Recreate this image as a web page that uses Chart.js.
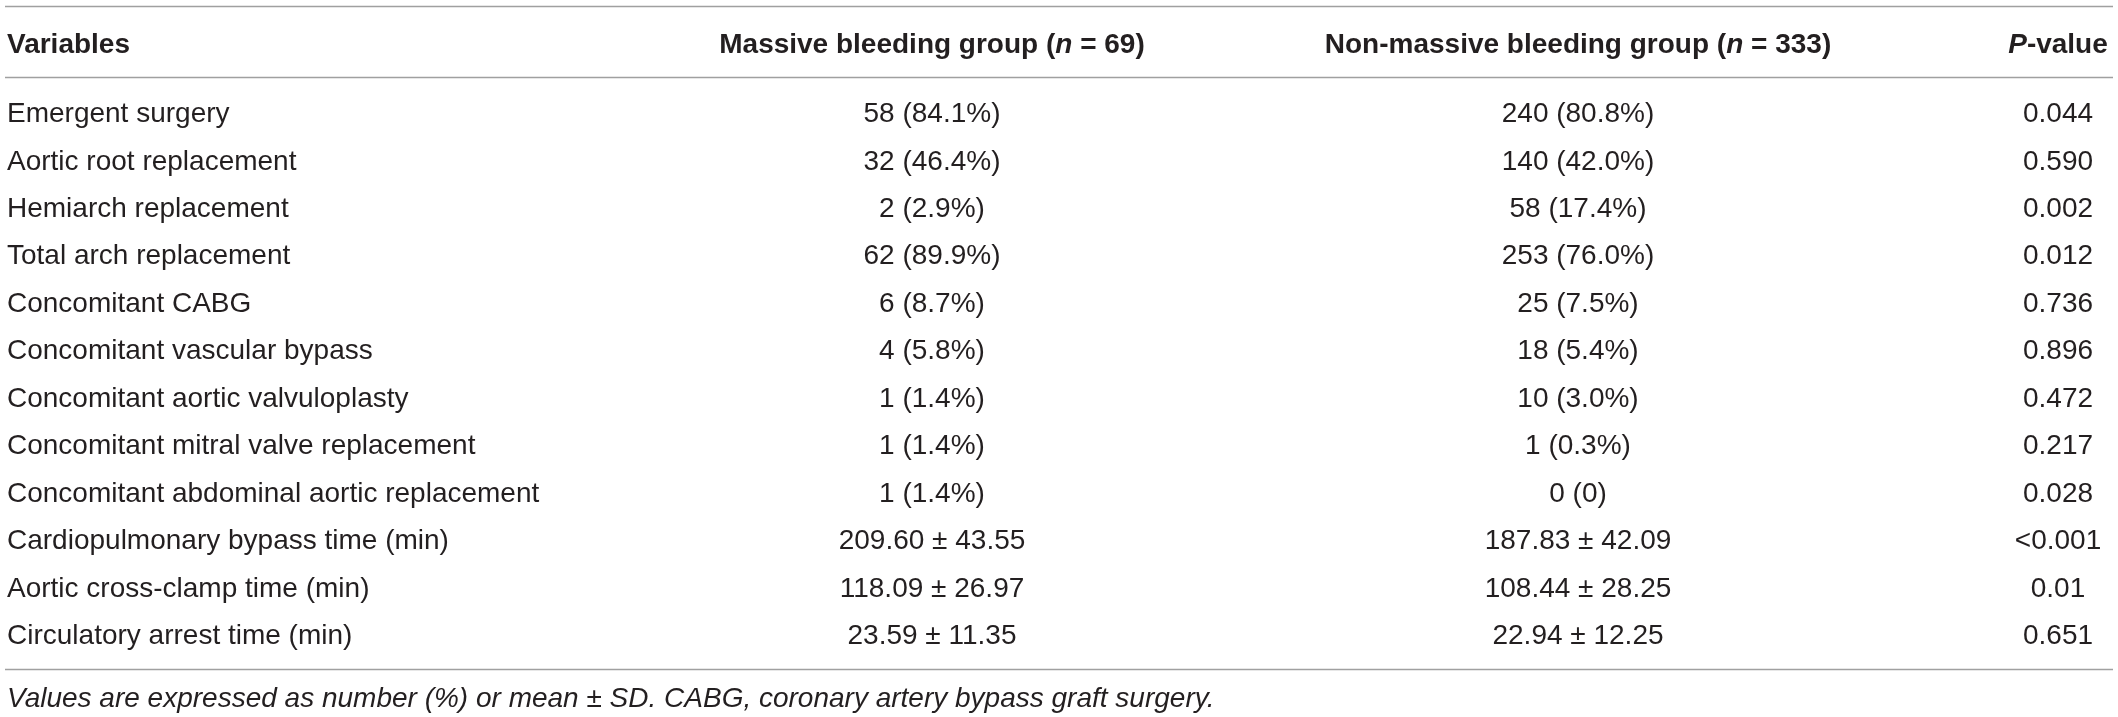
<!DOCTYPE html>
<html>
<head>
<meta charset="utf-8">
<script src="https://cdn.jsdelivr.net/npm/chart.js@4.4.0/dist/chart.umd.min.js"></script>
<style>
  html, body { margin: 0; padding: 0; background: #fff; }
  canvas { display: block; }
</style>
</head>
<body>
<canvas id="table_canvas" width="2118" height="717"></canvas>
<script>
const variables = [
    'Emergent surgery',
    'Aortic root replacement',
    'Hemiarch replacement',
    'Total arch replacement',
    'Concomitant CABG',
    'Concomitant vascular bypass',
    'Concomitant aortic valvuloplasty',
    'Concomitant mitral valve replacement',
    'Concomitant abdominal aortic replacement',
    'Cardiopulmonary bypass time (min)',
    'Aortic cross-clamp time (min)',
    'Circulatory arrest time (min)'
];
const massiveGroup = [
    '58 (84.1%)', '32 (46.4%)', '2 (2.9%)', '62 (89.9%)', '6 (8.7%)', '4 (5.8%)',
    '1 (1.4%)', '1 (1.4%)', '1 (1.4%)', '209.60 ± 43.55', '118.09 ± 26.97', '23.59 ± 11.35'
];
const nonMassiveGroup = [
    '240 (80.8%)', '140 (42.0%)', '58 (17.4%)', '253 (76.0%)', '25 (7.5%)', '18 (5.4%)',
    '10 (3.0%)', '1 (0.3%)', '0 (0)', '187.83 ± 42.09', '108.44 ± 28.25', '22.94 ± 12.25'
];
const pValues = [
    '0.044', '0.590', '0.002', '0.012', '0.736', '0.896',
    '0.472', '0.217', '0.028', '<0.001', '0.01', '0.651'
];
// header runs: [text, italic]
const headers = [
    [['Variables', false]],
    [['Massive bleeding group (', false], ['n', true], [' = 69)', false]],
    [['Non-massive bleeding group (', false], ['n', true], [' = 333)', false]],
    [['P', true], ['-value', false]]
];
const footnote = 'Values are expressed as number (%) or mean ± SD. CABG, coronary artery bypass graft surgery.';

// layout (pixels on x, row units on y)
const colX = [7, 932, 1578, 2058];
const colAlign = ['left', 'center', 'center', 'center'];
const headerRow = -1.45;
const topRule = -2.234;
const headerRule = -0.74;
const bottomRule = 11.74;
const footRow = 12.33;

const FAMILY = '"Liberation Sans", Arial, Helvetica, sans-serif';
const TEXT = '#231f20';
const RULE = '#a0a0a0';

const columns = [variables, massiveGroup, nonMassiveGroup, pValues];

const tablePlugin = {
    id: 'tableCells',
    afterDatasetsDraw(chart) {
        const c = chart.ctx;
        const xs = chart.scales.x, ys = chart.scales.y;
        c.save();
        c.fillStyle = TEXT;
        c.textBaseline = 'alphabetic';

        // body cells, placed at the points of each dataset
        const bodySize = 28;
        c.font = '300 ' + bodySize + 'px ' + FAMILY;
        chart.data.datasets.forEach((ds, di) => {
            const meta = chart.getDatasetMeta(di);
            c.textAlign = colAlign[di];
            meta.data.forEach((pt, i) => {
                c.fillText(ds.cells[i], pt.x, pt.y + bodySize * 0.36);
            });
        });

        // header
        const headSize = 28;
        const hy = ys.getPixelForValue(headerRow) + headSize * 0.36;
        c.textAlign = 'left';
        headers.forEach((runs, hi) => {
            const fonts = runs.map(r => (r[1] ? 'italic ' : '') + 'bold ' + headSize + 'px ' + FAMILY);
            let total = 0;
            const widths = runs.map((r, k) => { c.font = fonts[k]; const w = c.measureText(r[0]).width; total += w; return w; });
            let x = xs.getPixelForValue(colX[hi]);
            if (colAlign[hi] === 'center') x -= total / 2;
            runs.forEach((r, k) => { c.font = fonts[k]; c.fillText(r[0], x, hy); x += widths[k]; });
        });

        // rules
        c.strokeStyle = RULE;
        c.lineWidth = 1.6;
        [topRule, headerRule, bottomRule].forEach(v => {
            const y = Math.round(ys.getPixelForValue(v)) + 0.5;
            c.beginPath();
            c.moveTo(xs.getPixelForValue(5), y);
            c.lineTo(xs.getPixelForValue(2113), y);
            c.stroke();
        });

        // footnote
        c.font = 'italic 300 28px ' + FAMILY;
        c.fillText(footnote, xs.getPixelForValue(colX[0]), ys.getPixelForValue(footRow) + 28 * 0.36);
        c.restore();
    }
};

const ctx = document.getElementById('table_canvas');

const data = {
    datasets: columns.map((cells, ci) => ({
        label: 'col' + ci,
        cells: cells,
        data: cells.map((_, i) => ({ x: colX[ci], y: i })),
        pointRadius: 0,
        pointHoverRadius: 0
    }))
};

new Chart(ctx, {
    type: 'scatter',
    data: data,
    options: {
        responsive: false,
        animation: false,
        devicePixelRatio: 1,
        layout: {
            padding: { top: 88.3, bottom: 59.3, left: 0, right: 0 }
        },
        scales: {
            x: { type: 'linear', display: false, min: 0, max: 2118 },
            y: { type: 'linear', display: false, reverse: true, min: -0.5, max: 11.5 }
        },
        plugins: {
            legend: { display: false },
            tooltip: { enabled: false }
        },
        events: []
    },
    plugins: [tablePlugin]
});
</script>
</body>
</html>
